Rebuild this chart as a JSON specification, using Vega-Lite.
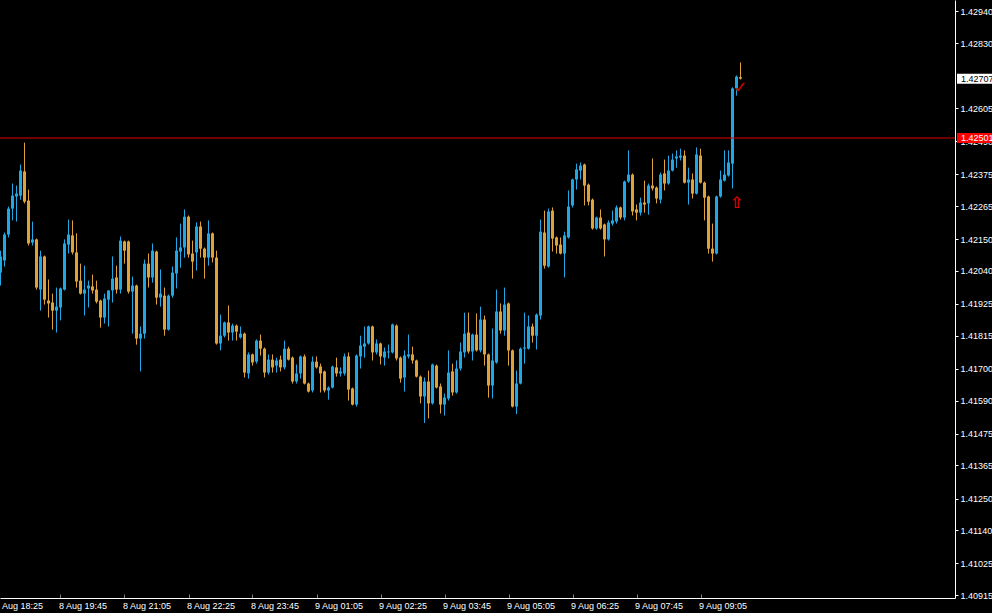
{
"$schema":"https://vega.github.io/schema/vega-lite/v6.json",
"width":955,"height":598,"autosize":"none","padding":{"left":0,"top":0,"right":37,"bottom":15},"background":"#000000",
"config":{"view":{"stroke":null},"scale":{"continuousPadding":0},"axis":{"grid":false,"labelFont":"Liberation Sans","labelFontSize":9,"labelColor":"#ffffff","domainColor":"#ffffff","tickColor":"#ffffff","title":null}},
"datasets":{
"candles":[
{"t":"2011-08-08T18:30","o":1.42034,"h":1.4211,"l":1.41989,"c":1.4209},
{"t":"2011-08-08T18:35","o":1.42076,"h":1.42173,"l":1.42055,"c":1.42166},
{"t":"2011-08-08T18:40","o":1.42166,"h":1.42263,"l":1.42156,"c":1.42256},
{"t":"2011-08-08T18:45","o":1.42256,"h":1.42343,"l":1.42215,"c":1.42301},
{"t":"2011-08-08T18:50","o":1.42298,"h":1.42336,"l":1.42211,"c":1.42308},
{"t":"2011-08-08T18:55","o":1.42301,"h":1.42409,"l":1.42287,"c":1.42388},
{"t":"2011-08-08T19:00","o":1.42385,"h":1.42485,"l":1.42274,"c":1.4228},
{"t":"2011-08-08T19:05","o":1.42284,"h":1.42322,"l":1.42128,"c":1.42135},
{"t":"2011-08-08T19:10","o":1.42138,"h":1.42211,"l":1.42128,"c":1.42149},
{"t":"2011-08-08T19:15","o":1.42149,"h":1.42152,"l":1.41975,"c":1.41982},
{"t":"2011-08-08T19:20","o":1.41975,"h":1.4211,"l":1.41902,"c":1.4209},
{"t":"2011-08-08T19:25","o":1.4209,"h":1.42093,"l":1.41923,"c":1.4194},
{"t":"2011-08-08T19:30","o":1.41937,"h":1.4201,"l":1.41878,"c":1.41927},
{"t":"2011-08-08T19:35","o":1.4193,"h":1.41961,"l":1.41836,"c":1.41902},
{"t":"2011-08-08T19:40","o":1.41902,"h":1.41982,"l":1.41826,"c":1.41916},
{"t":"2011-08-08T19:45","o":1.41913,"h":1.41982,"l":1.41868,"c":1.41979},
{"t":"2011-08-08T19:50","o":1.41975,"h":1.42149,"l":1.41972,"c":1.42135},
{"t":"2011-08-08T19:55","o":1.42131,"h":1.42218,"l":1.421,"c":1.42166},
{"t":"2011-08-08T20:00","o":1.42163,"h":1.42215,"l":1.42097,"c":1.42104},
{"t":"2011-08-08T20:05","o":1.42104,"h":1.4217,"l":1.41982,"c":1.42003},
{"t":"2011-08-08T20:10","o":1.42006,"h":1.42065,"l":1.41958,"c":1.41961},
{"t":"2011-08-08T20:15","o":1.41961,"h":1.42058,"l":1.41885,"c":1.41975},
{"t":"2011-08-08T20:20","o":1.41979,"h":1.42006,"l":1.41913,"c":1.41989},
{"t":"2011-08-08T20:25","o":1.41986,"h":1.42027,"l":1.41961,"c":1.41972},
{"t":"2011-08-08T20:30","o":1.41975,"h":1.42006,"l":1.41927,"c":1.41933},
{"t":"2011-08-08T20:35","o":1.41937,"h":1.4194,"l":1.41843,"c":1.41878},
{"t":"2011-08-08T20:40","o":1.41878,"h":1.41961,"l":1.41857,"c":1.41944},
{"t":"2011-08-08T20:45","o":1.4194,"h":1.41972,"l":1.41847,"c":1.41972},
{"t":"2011-08-08T20:50","o":1.41972,"h":1.4209,"l":1.4193,"c":1.42013},
{"t":"2011-08-08T20:55","o":1.42017,"h":1.42058,"l":1.41961,"c":1.41975},
{"t":"2011-08-08T21:00","o":1.41975,"h":1.42159,"l":1.41961,"c":1.42145},
{"t":"2011-08-08T21:05","o":1.42142,"h":1.42145,"l":1.42065,"c":1.4211},
{"t":"2011-08-08T21:10","o":1.42142,"h":1.42145,"l":1.41961,"c":1.41968},
{"t":"2011-08-08T21:15","o":1.41968,"h":1.4202,"l":1.41822,"c":1.41989},
{"t":"2011-08-08T21:20","o":1.41989,"h":1.41992,"l":1.41784,"c":1.41805},
{"t":"2011-08-08T21:25","o":1.41805,"h":1.41847,"l":1.41691,"c":1.41822},
{"t":"2011-08-08T21:30","o":1.41822,"h":1.42079,"l":1.41805,"c":1.42065},
{"t":"2011-08-08T21:35","o":1.42065,"h":1.421,"l":1.41982,"c":1.42017},
{"t":"2011-08-08T21:40","o":1.42017,"h":1.42135,"l":1.41999,"c":1.4211},
{"t":"2011-08-08T21:45","o":1.42107,"h":1.4211,"l":1.41923,"c":1.41947},
{"t":"2011-08-08T21:50","o":1.41947,"h":1.42045,"l":1.41916,"c":1.41961},
{"t":"2011-08-08T21:55","o":1.41954,"h":1.41982,"l":1.41815,"c":1.41836},
{"t":"2011-08-08T22:00","o":1.41836,"h":1.41958,"l":1.41833,"c":1.41954},
{"t":"2011-08-08T22:05","o":1.41954,"h":1.42055,"l":1.41947,"c":1.42034},
{"t":"2011-08-08T22:10","o":1.42031,"h":1.42156,"l":1.41979,"c":1.4211},
{"t":"2011-08-08T22:15","o":1.42107,"h":1.42204,"l":1.42051,"c":1.42121},
{"t":"2011-08-08T22:20","o":1.42121,"h":1.42253,"l":1.42086,"c":1.42228},
{"t":"2011-08-08T22:25","o":1.42228,"h":1.42232,"l":1.42086,"c":1.42097},
{"t":"2011-08-08T22:30","o":1.421,"h":1.42145,"l":1.42013,"c":1.42072},
{"t":"2011-08-08T22:35","o":1.42104,"h":1.42208,"l":1.42041,"c":1.42194},
{"t":"2011-08-08T22:40","o":1.42194,"h":1.42211,"l":1.42086,"c":1.42117},
{"t":"2011-08-08T22:45","o":1.42117,"h":1.42121,"l":1.42013,"c":1.42086},
{"t":"2011-08-08T22:50","o":1.42086,"h":1.42215,"l":1.42058,"c":1.4217},
{"t":"2011-08-08T22:55","o":1.4217,"h":1.42173,"l":1.42069,"c":1.42086},
{"t":"2011-08-08T23:00","o":1.42086,"h":1.4211,"l":1.41784,"c":1.41788},
{"t":"2011-08-08T23:05","o":1.41788,"h":1.41888,"l":1.41764,"c":1.41815},
{"t":"2011-08-08T23:10","o":1.41815,"h":1.41864,"l":1.41809,"c":1.41861},
{"t":"2011-08-08T23:15","o":1.41861,"h":1.4192,"l":1.41798,"c":1.41826},
{"t":"2011-08-08T23:20","o":1.41826,"h":1.41857,"l":1.41798,"c":1.4185},
{"t":"2011-08-08T23:25","o":1.4185,"h":1.41854,"l":1.41798,"c":1.41829},
{"t":"2011-08-08T23:30","o":1.41809,"h":1.41847,"l":1.41805,"c":1.41822},
{"t":"2011-08-08T23:35","o":1.41822,"h":1.41826,"l":1.4167,"c":1.41687},
{"t":"2011-08-08T23:40","o":1.41684,"h":1.41757,"l":1.41666,"c":1.4175},
{"t":"2011-08-08T23:45","o":1.4175,"h":1.41753,"l":1.41711,"c":1.41722},
{"t":"2011-08-08T23:50","o":1.41725,"h":1.41802,"l":1.41718,"c":1.41798},
{"t":"2011-08-08T23:55","o":1.41798,"h":1.41819,"l":1.41746,"c":1.4177},
{"t":"2011-08-09T00:00","o":1.4177,"h":1.41774,"l":1.4167,"c":1.41687},
{"t":"2011-08-09T00:05","o":1.41687,"h":1.4175,"l":1.4168,"c":1.41732},
{"t":"2011-08-09T00:10","o":1.41732,"h":1.4175,"l":1.41687,"c":1.41705},
{"t":"2011-08-09T00:15","o":1.41711,"h":1.41739,"l":1.41687,"c":1.41729},
{"t":"2011-08-09T00:20","o":1.41732,"h":1.41746,"l":1.41691,"c":1.41705},
{"t":"2011-08-09T00:25","o":1.41705,"h":1.41798,"l":1.41698,"c":1.4177},
{"t":"2011-08-09T00:30","o":1.4177,"h":1.41777,"l":1.41729,"c":1.41732},
{"t":"2011-08-09T00:35","o":1.41739,"h":1.41743,"l":1.41649,"c":1.41656},
{"t":"2011-08-09T00:40","o":1.41656,"h":1.41715,"l":1.41649,"c":1.41684},
{"t":"2011-08-09T00:45","o":1.41684,"h":1.41746,"l":1.41666,"c":1.41743},
{"t":"2011-08-09T00:50","o":1.41743,"h":1.4175,"l":1.41646,"c":1.41649},
{"t":"2011-08-09T00:55","o":1.41649,"h":1.41652,"l":1.41618,"c":1.41621},
{"t":"2011-08-09T01:00","o":1.41625,"h":1.41743,"l":1.41618,"c":1.41725},
{"t":"2011-08-09T01:05","o":1.41725,"h":1.41743,"l":1.41701,"c":1.41705},
{"t":"2011-08-09T01:10","o":1.41708,"h":1.41718,"l":1.41618,"c":1.41684},
{"t":"2011-08-09T01:15","o":1.41691,"h":1.41694,"l":1.41618,"c":1.41625},
{"t":"2011-08-09T01:20","o":1.41625,"h":1.41639,"l":1.41593,"c":1.41635},
{"t":"2011-08-09T01:25","o":1.41635,"h":1.41711,"l":1.41632,"c":1.41708},
{"t":"2011-08-09T01:30","o":1.41705,"h":1.41739,"l":1.41673,"c":1.41684},
{"t":"2011-08-09T01:35","o":1.41684,"h":1.41705,"l":1.41673,"c":1.41691},
{"t":"2011-08-09T01:40","o":1.41684,"h":1.41753,"l":1.41677,"c":1.41743},
{"t":"2011-08-09T01:45","o":1.41743,"h":1.41757,"l":1.4159,"c":1.41628},
{"t":"2011-08-09T01:50","o":1.41632,"h":1.41635,"l":1.41573,"c":1.41576},
{"t":"2011-08-09T01:55","o":1.41576,"h":1.4175,"l":1.41569,"c":1.41746},
{"t":"2011-08-09T02:00","o":1.41743,"h":1.41815,"l":1.41701,"c":1.41781},
{"t":"2011-08-09T02:05","o":1.41777,"h":1.41847,"l":1.41739,"c":1.41788},
{"t":"2011-08-09T02:10","o":1.41788,"h":1.4185,"l":1.41784,"c":1.41847},
{"t":"2011-08-09T02:15","o":1.41847,"h":1.4185,"l":1.41729,"c":1.41757},
{"t":"2011-08-09T02:20","o":1.41757,"h":1.41802,"l":1.4175,"c":1.41788},
{"t":"2011-08-09T02:25","o":1.41788,"h":1.41791,"l":1.41715,"c":1.41743},
{"t":"2011-08-09T02:30","o":1.41739,"h":1.41774,"l":1.41711,"c":1.4176},
{"t":"2011-08-09T02:35","o":1.41757,"h":1.41784,"l":1.41736,"c":1.4176},
{"t":"2011-08-09T02:40","o":1.41757,"h":1.41857,"l":1.41753,"c":1.41854},
{"t":"2011-08-09T02:45","o":1.4185,"h":1.41854,"l":1.41729,"c":1.41736},
{"t":"2011-08-09T02:50","o":1.41739,"h":1.41743,"l":1.41652,"c":1.41666},
{"t":"2011-08-09T02:55","o":1.4167,"h":1.41764,"l":1.41621,"c":1.41746},
{"t":"2011-08-09T03:00","o":1.41743,"h":1.41819,"l":1.41736,"c":1.4175},
{"t":"2011-08-09T03:05","o":1.4175,"h":1.41777,"l":1.41718,"c":1.41729},
{"t":"2011-08-09T03:10","o":1.41729,"h":1.41732,"l":1.4167,"c":1.41673},
{"t":"2011-08-09T03:15","o":1.41673,"h":1.41677,"l":1.4158,"c":1.41604},
{"t":"2011-08-09T03:20","o":1.41604,"h":1.4167,"l":1.41512,"c":1.41656},
{"t":"2011-08-09T03:25","o":1.41656,"h":1.41694,"l":1.41528,"c":1.4158},
{"t":"2011-08-09T03:30","o":1.4158,"h":1.41718,"l":1.41576,"c":1.41715},
{"t":"2011-08-09T03:35","o":1.41711,"h":1.41715,"l":1.41632,"c":1.41635},
{"t":"2011-08-09T03:40","o":1.41639,"h":1.41649,"l":1.41545,"c":1.41576},
{"t":"2011-08-09T03:45","o":1.41576,"h":1.41614,"l":1.41538,"c":1.416},
{"t":"2011-08-09T03:50","o":1.41597,"h":1.41764,"l":1.4159,"c":1.41687},
{"t":"2011-08-09T03:55","o":1.41691,"h":1.41718,"l":1.41607,"c":1.41618},
{"t":"2011-08-09T04:00","o":1.41618,"h":1.41729,"l":1.41614,"c":1.41701},
{"t":"2011-08-09T04:05","o":1.41701,"h":1.41791,"l":1.41694,"c":1.4176},
{"t":"2011-08-09T04:10","o":1.41757,"h":1.41895,"l":1.41739,"c":1.41822},
{"t":"2011-08-09T04:15","o":1.41826,"h":1.41895,"l":1.41753,"c":1.4176},
{"t":"2011-08-09T04:20","o":1.4176,"h":1.41822,"l":1.41729,"c":1.41819},
{"t":"2011-08-09T04:25","o":1.41819,"h":1.41892,"l":1.4176,"c":1.41764},
{"t":"2011-08-09T04:30","o":1.41764,"h":1.41916,"l":1.41757,"c":1.41871},
{"t":"2011-08-09T04:35","o":1.41871,"h":1.41885,"l":1.41711,"c":1.4175},
{"t":"2011-08-09T04:40","o":1.4175,"h":1.41753,"l":1.416,"c":1.41642},
{"t":"2011-08-09T04:45","o":1.41642,"h":1.4184,"l":1.41597,"c":1.41729},
{"t":"2011-08-09T04:50","o":1.41722,"h":1.41975,"l":1.41718,"c":1.41899},
{"t":"2011-08-09T04:55","o":1.41899,"h":1.41927,"l":1.41822,"c":1.41833},
{"t":"2011-08-09T05:00","o":1.41833,"h":1.41982,"l":1.41815,"c":1.41923},
{"t":"2011-08-09T05:05","o":1.41927,"h":1.4193,"l":1.41711,"c":1.41764},
{"t":"2011-08-09T05:10","o":1.41764,"h":1.41767,"l":1.41566,"c":1.41569},
{"t":"2011-08-09T05:15","o":1.41569,"h":1.41694,"l":1.41543,"c":1.41649},
{"t":"2011-08-09T05:20","o":1.41649,"h":1.41774,"l":1.41646,"c":1.4177},
{"t":"2011-08-09T05:25","o":1.4177,"h":1.41895,"l":1.41718,"c":1.41774},
{"t":"2011-08-09T05:30","o":1.4177,"h":1.41885,"l":1.41767,"c":1.41847},
{"t":"2011-08-09T05:35","o":1.41847,"h":1.41857,"l":1.41791,"c":1.41815},
{"t":"2011-08-09T05:40","o":1.41815,"h":1.41892,"l":1.41767,"c":1.41888},
{"t":"2011-08-09T05:45","o":1.41885,"h":1.42218,"l":1.41871,"c":1.42176},
{"t":"2011-08-09T05:50","o":1.42173,"h":1.42249,"l":1.42048,"c":1.42058},
{"t":"2011-08-09T05:55","o":1.42055,"h":1.42256,"l":1.42051,"c":1.42246},
{"t":"2011-08-09T06:00","o":1.42249,"h":1.4226,"l":1.42107,"c":1.42152},
{"t":"2011-08-09T06:05","o":1.42156,"h":1.42159,"l":1.421,"c":1.42128},
{"t":"2011-08-09T06:10","o":1.42131,"h":1.42156,"l":1.42097,"c":1.421},
{"t":"2011-08-09T06:15","o":1.421,"h":1.42176,"l":1.42017,"c":1.42163},
{"t":"2011-08-09T06:20","o":1.42156,"h":1.42319,"l":1.42152,"c":1.42263},
{"t":"2011-08-09T06:25","o":1.42267,"h":1.4236,"l":1.4226,"c":1.42357},
{"t":"2011-08-09T06:30","o":1.42357,"h":1.42412,"l":1.42322,"c":1.42392},
{"t":"2011-08-09T06:35","o":1.42388,"h":1.42416,"l":1.42357,"c":1.42405},
{"t":"2011-08-09T06:40","o":1.42409,"h":1.42412,"l":1.42267,"c":1.42336},
{"t":"2011-08-09T06:45","o":1.42339,"h":1.42343,"l":1.42267,"c":1.4228},
{"t":"2011-08-09T06:50","o":1.42287,"h":1.42291,"l":1.42183,"c":1.42187},
{"t":"2011-08-09T06:55","o":1.42187,"h":1.42228,"l":1.42183,"c":1.42225},
{"t":"2011-08-09T07:00","o":1.42225,"h":1.42253,"l":1.42183,"c":1.42187},
{"t":"2011-08-09T07:05","o":1.42201,"h":1.42204,"l":1.4209,"c":1.42149},
{"t":"2011-08-09T07:10","o":1.42149,"h":1.42215,"l":1.42145,"c":1.42208},
{"t":"2011-08-09T07:15","o":1.42204,"h":1.42249,"l":1.42197,"c":1.42215},
{"t":"2011-08-09T07:20","o":1.42211,"h":1.42267,"l":1.42204,"c":1.4226},
{"t":"2011-08-09T07:25","o":1.4226,"h":1.42263,"l":1.42218,"c":1.42225},
{"t":"2011-08-09T07:30","o":1.42225,"h":1.42353,"l":1.42215,"c":1.4235},
{"t":"2011-08-09T07:35","o":1.4235,"h":1.42458,"l":1.42346,"c":1.42374},
{"t":"2011-08-09T07:40","o":1.42374,"h":1.42378,"l":1.42232,"c":1.42246},
{"t":"2011-08-09T07:45","o":1.42253,"h":1.4227,"l":1.42215,"c":1.42242},
{"t":"2011-08-09T07:50","o":1.42242,"h":1.42294,"l":1.42232,"c":1.42277},
{"t":"2011-08-09T07:55","o":1.42277,"h":1.42353,"l":1.42242,"c":1.4227},
{"t":"2011-08-09T08:00","o":1.42274,"h":1.42343,"l":1.42235,"c":1.42336},
{"t":"2011-08-09T08:05","o":1.42336,"h":1.4243,"l":1.42319,"c":1.42326},
{"t":"2011-08-09T08:10","o":1.42329,"h":1.42333,"l":1.42274,"c":1.42291},
{"t":"2011-08-09T08:15","o":1.42287,"h":1.42381,"l":1.42274,"c":1.42374},
{"t":"2011-08-09T08:20","o":1.42378,"h":1.42426,"l":1.42319,"c":1.42343},
{"t":"2011-08-09T08:25","o":1.42343,"h":1.4244,"l":1.42339,"c":1.42388},
{"t":"2011-08-09T08:30","o":1.42388,"h":1.42447,"l":1.42385,"c":1.42426},
{"t":"2011-08-09T08:35","o":1.4243,"h":1.42458,"l":1.42398,"c":1.42437},
{"t":"2011-08-09T08:40","o":1.42433,"h":1.42464,"l":1.42423,"c":1.4244},
{"t":"2011-08-09T08:45","o":1.4244,"h":1.42458,"l":1.42343,"c":1.42346},
{"t":"2011-08-09T08:50","o":1.42346,"h":1.42398,"l":1.4227,"c":1.42357},
{"t":"2011-08-09T08:55","o":1.42357,"h":1.42378,"l":1.42291,"c":1.42308},
{"t":"2011-08-09T09:00","o":1.42308,"h":1.42468,"l":1.42305,"c":1.42444},
{"t":"2011-08-09T09:05","o":1.4244,"h":1.42464,"l":1.42343,"c":1.42346},
{"t":"2011-08-09T09:10","o":1.42346,"h":1.4235,"l":1.42215,"c":1.42294},
{"t":"2011-08-09T09:15","o":1.42298,"h":1.42301,"l":1.421,"c":1.42117},
{"t":"2011-08-09T09:20","o":1.42117,"h":1.42204,"l":1.42072,"c":1.421},
{"t":"2011-08-09T09:25","o":1.421,"h":1.42301,"l":1.42097,"c":1.42298},
{"t":"2011-08-09T09:30","o":1.42298,"h":1.42388,"l":1.42294,"c":1.42357},
{"t":"2011-08-09T09:35","o":1.42353,"h":1.42458,"l":1.4235,"c":1.42374},
{"t":"2011-08-09T09:40","o":1.42371,"h":1.42458,"l":1.42367,"c":1.42416},
{"t":"2011-08-09T09:45","o":1.42412,"h":1.42677,"l":1.42326,"c":1.42673},
{"t":"2011-08-09T09:50","o":1.42673,"h":1.42718,"l":1.42648,"c":1.42714},
{"t":"2011-08-09T09:55","o":1.42712,"h":1.42763,"l":1.42704,"c":1.42707}
],
"levels":[
{"kind":"bid","p":1.42707,"label":"1.42707"},
{"kind":"line","p":1.42501,"label":"1.42501"}
],
"signs":[
{"t":"2011-08-09T09:55","p":1.42673,"sym":"✓"},
{"t":"2011-08-09T09:50","p":1.42277,"sym":"⇧"}
]
},
"layer":[
{"data":{"name":"candles"},"mark":{"type":"rule","strokeWidth":1},
 "encoding":{
  "x":{"field":"t","type":"temporal",
   "scale":{"domain":[{"year":2011,"month":8,"date":8,"hours":18,"minutes":29,"seconds":22,"milliseconds":500},{"year":2011,"month":8,"date":9,"hours":14,"minutes":23,"seconds":7,"milliseconds":500}],"nice":false,"padding":0},
   "axis":{"format":"%-d %b %H:%M","labelExpr":"datum.index == 0 ? '8 Aug 18:25' : timeFormat(datum.value, '%-d %b %H:%M')","labelAlign":"left","labelBaseline":"middle","labelOffset":{"condition":{"test":"datum.index == 0","value":-6},"value":-2},"tickOpacity":{"condition":{"test":"datum.index == 0","value":0},"value":1},"tickSize":-4,"tickColor":"#7f7f7f","labelPadding":11,"labelOverlap":false,"labelFlush":false,"labelBound":false,"tickCount":40,
    "values":[{"year":2011,"month":8,"date":8,"hours":18,"minutes":30},{"year":2011,"month":8,"date":8,"hours":19,"minutes":45},{"year":2011,"month":8,"date":8,"hours":21,"minutes":5},{"year":2011,"month":8,"date":8,"hours":22,"minutes":25},{"year":2011,"month":8,"date":8,"hours":23,"minutes":45},{"year":2011,"month":8,"date":9,"hours":1,"minutes":5},{"year":2011,"month":8,"date":9,"hours":2,"minutes":25},{"year":2011,"month":8,"date":9,"hours":3,"minutes":45},{"year":2011,"month":8,"date":9,"hours":5,"minutes":5},{"year":2011,"month":8,"date":9,"hours":6,"minutes":25},{"year":2011,"month":8,"date":9,"hours":7,"minutes":45},{"year":2011,"month":8,"date":9,"hours":9,"minutes":5}]}},
  "y":{"field":"l","type":"quantitative","scale":{"domain":[1.409048,1.4297986],"nice":false,"zero":false,"padding":0},
   "axis":{"orient":"right","format":".5f","tickSize":3,"labelPadding":2,"labelBaseline":"middle","labelOverlap":false,"labelFlush":false,"tickCount":40,
    "values":[1.4294,1.4283,1.42605,1.4249,1.42375,1.42265,1.4215,1.4204,1.41925,1.41815,1.417,1.4159,1.41475,1.41365,1.4125,1.4114,1.41025,1.40915]}},
  "y2":{"field":"h"},
  "color":{"condition":{"test":"datum.c >= datum.o","value":"#22a7e5"},"value":"#dda23a"}
 }},
{"data":{"name":"candles"},"mark":{"type":"bar","size":3},
 "encoding":{
  "x":{"field":"t","type":"temporal","scale":{"padding":0}},
  "y":{"field":"o","type":"quantitative","scale":{"domain":[1.409048,1.4297986],"nice":false,"zero":false,"padding":0}},
  "y2":{"field":"c"},
  "color":{"condition":{"test":"datum.c >= datum.o","value":"#22a7e5"},"value":"#dda23a"}
 }},
{"data":{"name":"levels"},"transform":[{"filter":"datum.kind == 'line'"}],"mark":{"type":"rule","color":"#e00000","strokeWidth":1},
 "encoding":{"y":{"field":"p","type":"quantitative","scale":{"domain":[1.409048,1.4297986],"nice":false,"zero":false,"padding":0}}}},
{"data":{"name":"levels"},"mark":{"type":"bar","size":10},
 "encoding":{
  "x":{"datum":{"year":2011,"month":8,"date":9,"hours":14,"minutes":25,"seconds":37,"milliseconds":500},"type":"temporal","scale":{"padding":0}},
  "x2":{"datum":{"year":2011,"month":8,"date":9,"hours":15,"minutes":13,"seconds":7}},
  "y":{"field":"p","type":"quantitative","scale":{"domain":[1.409048,1.4297986],"nice":false,"zero":false,"padding":0}},
  "color":{"condition":{"test":"datum.kind == 'bid'","value":"#ffffff"},"value":"#ff0000"}
 }},
{"data":{"name":"levels"},"mark":{"type":"text","align":"left","baseline":"middle","font":"Liberation Sans","fontSize":9},
 "encoding":{
  "x":{"datum":{"year":2011,"month":8,"date":9,"hours":14,"minutes":30,"seconds":37,"milliseconds":500},"type":"temporal"},
  "y":{"field":"p","type":"quantitative","scale":{"domain":[1.409048,1.4297986],"nice":false,"zero":false,"padding":0}},
  "text":{"field":"label"},
  "color":{"condition":{"test":"datum.kind == 'bid'","value":"#000000"},"value":"#ffffff"}
 }},
{"data":{"name":"signs"},"mark":{"type":"text","align":"center","baseline":"middle","font":"DejaVu Sans","fontSize":16,"fontWeight":"bold","color":"#e00000"},
 "encoding":{
  "x":{"field":"t","type":"temporal"},
  "y":{"field":"p","type":"quantitative","scale":{"domain":[1.409048,1.4297986],"nice":false,"zero":false,"padding":0}},
  "text":{"field":"sym"}
 }}
]
}
